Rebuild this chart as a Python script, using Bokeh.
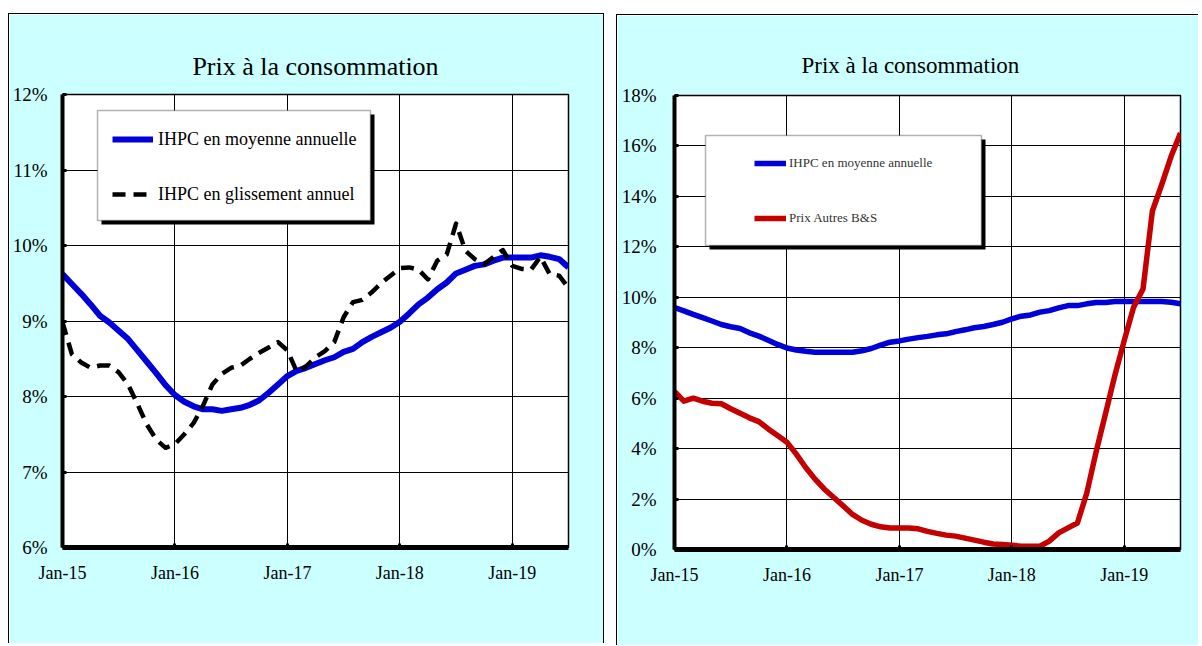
from bokeh.plotting import figure
from bokeh.layouts import row
from bokeh.models import (Range1d, FixedTicker, PrintfTickFormatter, Legend, LegendItem,
                          BoxAnnotation, Title)
from bokeh.embed import file_html
from bokeh.resources import INLINE

# ---------------- data ----------------
months = list(range(55))  # Jan-15 .. Jul-19
tick_months = [0, 12, 24, 36, 48]
tick_labels = ["Jan-15", "Jan-16", "Jan-17", "Jan-18", "Jan-19"]

ihpc_moy_left = [9.62, 9.49, 9.36, 9.22, 9.07, 8.98, 8.87, 8.76, 8.61, 8.46, 8.31, 8.15,
                 8.02, 7.93, 7.87, 7.83, 7.83, 7.81, 7.83, 7.85, 7.89, 7.95, 8.05, 8.16,
                 8.27, 8.34, 8.38, 8.43, 8.48, 8.52, 8.59, 8.63, 8.72, 8.79, 8.85, 8.91,
                 8.99, 9.10, 9.22, 9.31, 9.42, 9.51, 9.63, 9.68, 9.73, 9.75, 9.80, 9.84,
                 9.84, 9.84, 9.84, 9.87, 9.85, 9.82, 9.71]
ihpc_gliss = [8.98, 8.56, 8.45, 8.38, 8.41, 8.41, 8.32, 8.16, 7.90, 7.63, 7.43, 7.32,
              7.37, 7.50, 7.65, 7.88, 8.16, 8.30, 8.38, 8.41, 8.50, 8.58, 8.65, 8.72,
              8.61, 8.33, 8.40, 8.52, 8.60, 8.72, 9.05, 9.25, 9.28, 9.38, 9.50, 9.60,
              9.70, 9.71, 9.68, 9.55, 9.80, 9.88, 10.29, 9.93, 9.82, 9.75, 9.85, 9.94,
              9.73, 9.69, 9.68, 9.85, 9.62, 9.60, 9.44]

ihpc_moy_right = [9.59, 9.46, 9.32, 9.19, 9.06, 8.92, 8.83, 8.76, 8.59, 8.46, 8.30, 8.13,
                  7.99, 7.91, 7.86, 7.82, 7.82, 7.82, 7.82, 7.82, 7.88, 7.97, 8.10, 8.22,
                  8.27, 8.34, 8.40, 8.45, 8.51, 8.55, 8.64, 8.71, 8.79, 8.84, 8.92, 9.01,
                  9.14, 9.25, 9.30, 9.41, 9.47, 9.58, 9.67, 9.67, 9.74, 9.79, 9.79, 9.83,
                  9.83, 9.83, 9.83, 9.83, 9.83, 9.80, 9.74]
prix_autres = [6.27, 5.88, 6.00, 5.88, 5.80, 5.78, 5.58, 5.40, 5.22, 5.07, 4.78, 4.52,
               4.25, 3.78, 3.25, 2.79, 2.39, 2.06, 1.73, 1.39, 1.16, 1.00, 0.90, 0.85,
               0.85, 0.85, 0.82, 0.72, 0.64, 0.57, 0.53, 0.45, 0.37, 0.29, 0.22, 0.20,
               0.17, 0.13, 0.13, 0.13, 0.33, 0.66, 0.86, 1.05, 2.24, 3.88, 5.39, 6.91,
               8.29, 9.61, 10.33, 13.42, 14.47, 15.59, 16.51]

left_y_ticks = [6, 7, 8, 9, 10, 11, 12]
right_y_ticks = [0, 2, 4, 6, 8, 10, 12, 14, 16, 18]

TITLE = "Prix à la consommation"
SERIF = "Liberation Serif"
CYAN = "#ccffff"
BLUE = "#0000d8"
RED = "#c40000"


def base_fig(width, height, yr, yticks, mb, styles, margin, title_size, title_align,
             title_offset, title_standoff, ylab_standoff):
    p = figure(width=width, height=height, x_range=Range1d(0, 54), y_range=Range1d(*yr),
               output_backend="svg", toolbar_location=None,
               min_border_left=mb[0], min_border_right=mb[1],
               min_border_top=mb[2], min_border_bottom=mb[3])
    p.styles = styles
    p.margin = margin
    p.border_fill_color = CYAN
    p.background_fill_color = "white"
    p.outline_line_color = "black"
    p.outline_line_width = 1.5
    p.title = Title(text=TITLE, align=title_align, text_font=SERIF, text_font_size=title_size,
                    text_font_style="normal", text_color="black", offset=title_offset,
                    standoff=title_standoff)
    for ax in (p.xaxis, p.yaxis):
        ax.axis_line_color = "black"
        ax.major_tick_line_color = "black"
        ax.major_tick_line_width = 3
        ax.major_tick_in = 4
        ax.major_tick_out = 0
        ax.minor_tick_line_color = None
        ax.major_label_text_font = SERIF
        ax.major_label_text_color = "black"
    p.xaxis.axis_line_width = 5
    p.yaxis.axis_line_width = 4
    p.xaxis.ticker = FixedTicker(ticks=tick_months)
    p.xaxis.major_label_overrides = {m: l for m, l in zip(tick_months, tick_labels)}
    p.xaxis.major_label_text_font_size = "18px"
    p.xaxis.major_label_standoff = 15
    p.yaxis.ticker = FixedTicker(ticks=yticks)
    p.yaxis.formatter = PrintfTickFormatter(format="%d%%")
    p.yaxis.major_label_text_font_size = "19px"
    p.yaxis.major_label_standoff = ylab_standoff
    p.xgrid.ticker = FixedTicker(ticks=tick_months)
    p.ygrid.ticker = FixedTicker(ticks=yticks)
    for g in (p.xgrid, p.ygrid):
        g.grid_line_color = "black"
        g.grid_line_width = 1
        g.grid_line_alpha = 1
    return p


def box_from_px(frame, xr, yr, x0, x1, y0, y1):
    """convert a pixel rectangle (page coords) to data coords of a frame"""
    fl, fr, ft, fb = frame
    dx = (xr[1] - xr[0]) / (fr - fl)
    dy = (yr[1] - yr[0]) / (fb - ft)
    return dict(left=xr[0] + (x0 - fl) * dx, right=xr[0] + (x1 - fl) * dx,
                top=yr[1] - (y0 - ft) * dy, bottom=yr[1] - (y1 - ft) * dy)


def legend_box(p, frame, xr, yr, x0, x1, y0, y1, sh):
    shadow = BoxAnnotation(**box_from_px(frame, xr, yr, x0 + sh, x1 + sh, y0 + sh, y1 + sh),
                           fill_color="black", fill_alpha=1, line_color=None)
    box = BoxAnnotation(**box_from_px(frame, xr, yr, x0, x1, y0, y1),
                        fill_color="white", fill_alpha=1, line_color="black", line_width=1.5)
    p.add_layout(shadow)
    p.add_layout(box)


# ---------------- left chart ----------------
p1 = base_fig(596, 630, (6, 12), left_y_ticks, (53, 37, 80, 97),
              {"border-left": "1px solid black", "border-top": "1px solid black",
               "border-right": "1px solid black"},
              (13, 0, 0, 8), "26px", "center", 0, 28, 15)
r1 = p1.line(months, ihpc_moy_left, line_color=BLUE, line_width=6, line_join="round")
r2 = p1.line(months, ihpc_gliss, line_color="black", line_width=4.5, line_dash="13 8",
             line_join="round")
frame1 = (62, 568, 94, 547)
legend_box(p1, frame1, (0, 54), (6, 12), 97, 370, 110, 220, 4)
leg1 = Legend(items=[LegendItem(label="IHPC en moyenne annuelle", renderers=[r1]),
                     LegendItem(label="IHPC en glissement annuel", renderers=[r2])],
              location=(50, 342), padding=0, margin=0, spacing=33,
              glyph_width=41, glyph_height=22, label_height=22, label_standoff=5,
              label_text_font=SERIF, label_text_font_size="18px", label_text_color="black",
              background_fill_alpha=0, border_line_alpha=0)
p1.add_layout(leg1)

# ---------------- right chart ----------------
p2 = base_fig(582, 631, (0, 18), right_y_ticks, (57, 19, 80, 97),
              {"border-left": "1px solid black", "border-top": "1px solid black"},
              (14, 0, 0, 12), "23px", "left", 127, 36, 18)
r3 = p2.line(months, ihpc_moy_right, line_color=BLUE, line_width=5.5, line_join="round")
r4 = p2.line(months, prix_autres, line_color=RED, line_width=5.5, line_join="round")
frame2 = (676, 1182, 95, 549)
legend_box(p2, frame2, (0, 54), (0, 18), 707, 983, 135, 245, 4)
leg2 = Legend(items=[LegendItem(label="IHPC en moyenne annuelle", renderers=[r3]),
                     LegendItem(label="Prix Autres B&S", renderers=[r4])],
              location=(80, 321), padding=0, margin=0, spacing=35,
              glyph_width=32, glyph_height=20, label_height=20, label_standoff=3,
              label_text_font=SERIF, label_text_font_size="13px", label_text_color="#333333",
              background_fill_alpha=0, border_line_alpha=0)
p2.add_layout(leg2)

layout = row(p1, p2)
open("out.html", "w").write(file_html(layout, INLINE))
